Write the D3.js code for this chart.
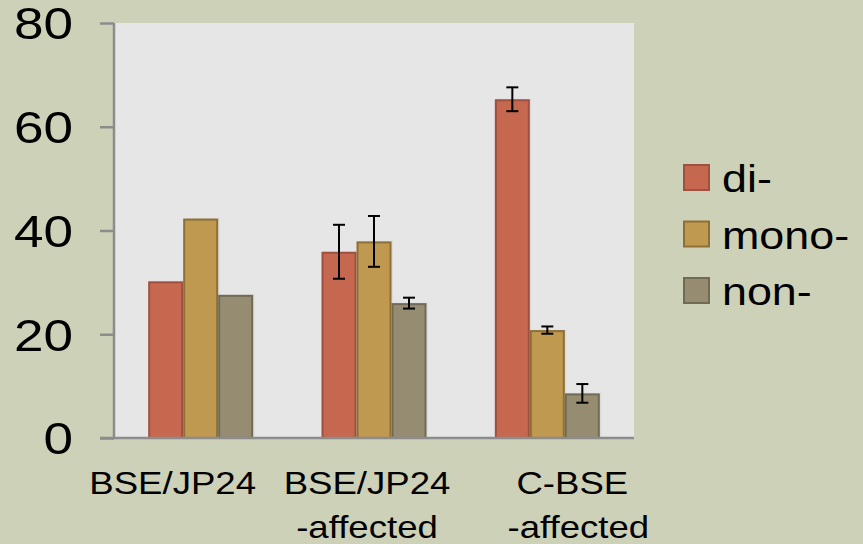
<!DOCTYPE html>
<html>
<head>
<meta charset="utf-8">
<script src="https://cdn.jsdelivr.net/npm/d3@7"></script>
<style>
  html, body { margin: 0; padding: 0; background: #CDD1B8; }
  svg { display: block; }
  text { font-family: "Liberation Sans", Arial, sans-serif; fill: #000; }
</style>
</head>
<body>
<svg id="chart" width="863" height="544"></svg>
<script>
// ---- data ----
const categories = ["BSE/JP24", "BSE/JP24\n-affected", "C-BSE\n-affected"];
const seriesNames = ["di-", "mono-", "non-"];
const diValues   = [30.2, 35.9, 65.3];
const monoValues = [42.3, 37.9, 20.8];
const nonValues  = [27.6, 26.0, 8.6];
const diErrors   = [null, 5.2, 2.3];
const monoErrors = [null, 4.9, 0.7];
const nonErrors  = [null, 1.05, 1.8];
const yTicks = [0, 20, 40, 60, 80];

// ---- layout / style ----
const fills   = ["#C5684F", "#BF994F", "#958C71"];
const borders = ["#A0503F", "#8E6F35", "#716B55"];
const plot = { left: 114, right: 634, top: 23, bottom: 438 };
const groupWidth = 105;
const stretch = 1.18;
const labelShift = [[-28], [-7, -7], [25, 31]]; // per-line x offsets of category labels

const values = [diValues, monoValues, nonValues];
const errors = [diErrors, monoErrors, nonErrors];

const svg = d3.select("#chart");

svg.append("rect").attr("x", 0).attr("y", 0).attr("width", 863).attr("height", 544).attr("fill", "#CDD1B8");

const y = d3.scaleLinear().domain([0, 80]).range([plot.bottom, plot.top]);
const x0 = d3.scaleBand().domain(categories).range([plot.left, plot.right]).padding(0);
const x1 = d3.scaleBand().domain(seriesNames).range([0, groupWidth]).padding(0);
const gOff = (x0.bandwidth() - groupWidth) / 2;

// plot area
svg.append("rect")
  .attr("x", plot.left).attr("y", plot.top)
  .attr("width", plot.right - plot.left).attr("height", plot.bottom - plot.top)
  .attr("fill", "#E6E6E6");

// bars
const rows = [];
categories.forEach((c, ci) => {
  seriesNames.forEach((s, si) => {
    rows.push({ c, ci, s, si, v: values[si][ci], e: errors[si][ci] });
  });
});

svg.append("g").selectAll("rect.shadow").data(rows).join("rect")
  .attr("x", d => x0(d.c) + gOff + x1(d.s) + 1.5)
  .attr("y", d => y(d.v) - 0.5)
  .attr("width", x1.bandwidth())
  .attr("height", d => y(0) - y(d.v))
  .attr("fill", "#d4d4d4").attr("opacity", 0.6);

svg.append("g").selectAll("rect.bar").data(rows).join("rect")
  .attr("x", d => x0(d.c) + gOff + x1(d.s) + 1)
  .attr("y", d => y(d.v) + 1)
  .attr("width", x1.bandwidth() - 2)
  .attr("height", d => y(0) - y(d.v) - 1)
  .attr("fill", d => fills[d.si])
  .attr("stroke", d => borders[d.si])
  .attr("stroke-width", 2);

// error bars
const eg = svg.append("g").attr("stroke", "#000").attr("stroke-width", 2).attr("fill", "none");
rows.filter(d => d.e != null).forEach(d => {
  const cx = x0(d.c) + gOff + x1(d.s) + x1.bandwidth() / 2;
  const yHi = y(d.v + d.e), yLo = y(d.v - d.e);
  eg.append("line").attr("x1", cx).attr("x2", cx).attr("y1", yHi).attr("y2", yLo);
  eg.append("line").attr("x1", cx - 6).attr("x2", cx + 6).attr("y1", yHi).attr("y2", yHi);
  eg.append("line").attr("x1", cx - 6).attr("x2", cx + 6).attr("y1", yLo).attr("y2", yLo);
});

// y axis
const yAxis = d3.axisLeft(y).tickValues(yTicks).tickSize(14).tickFormat(d3.format("d"));
const ya = svg.append("g").attr("transform", `translate(${plot.left},0)`).call(yAxis);
ya.select(".domain").attr("stroke", "#8C8C8C").attr("stroke-width", 2.5)
  .attr("d", `M0,${plot.top}V${plot.bottom}`);
ya.selectAll(".tick line").attr("stroke", "#8C8C8C").attr("stroke-width", 2.5);
ya.selectAll(".tick text").remove();
ya.selectAll(".tick").append("text")
  .attr("transform", `translate(-41,0) scale(${stretch},1)`)
  .attr("text-anchor", "end")
  .attr("dy", "0.35em")
  .attr("font-size", 45)
  .attr("fill", "#000")
  .text(d => d);

// x axis line
svg.append("line")
  .attr("x1", plot.left - 14).attr("x2", plot.right)
  .attr("y1", y(0)).attr("y2", y(0))
  .attr("stroke", "#8C8C8C").attr("stroke-width", 2.5);

// x labels
categories.forEach((c, ci) => {
  const lines = c.split("\n");
  lines.forEach((ln, li) => {
    svg.append("text")
      .attr("transform", `translate(${x0(c) + x0.bandwidth() / 2 + labelShift[ci][li]},${494 + li * 44}) scale(${stretch},1)`)
      .attr("text-anchor", "middle")
      .attr("font-size", 31)
      .text(ln);
  });
});

// legend
const lg = svg.append("g").attr("transform", "translate(683,164)");
seriesNames.forEach((s, i) => {
  const g = lg.append("g").attr("transform", `translate(0,${i * 56.5})`);
  g.append("rect").attr("x", 1).attr("y", 1).attr("width", 25).attr("height", 25)
    .attr("fill", fills[i]).attr("stroke", borders[i]).attr("stroke-width", 2);
  g.append("text")
    .attr("transform", `translate(39,28) scale(${stretch},1)`)
    .attr("font-size", 38)
    .text(s);
});
</script>
</body>
</html>
